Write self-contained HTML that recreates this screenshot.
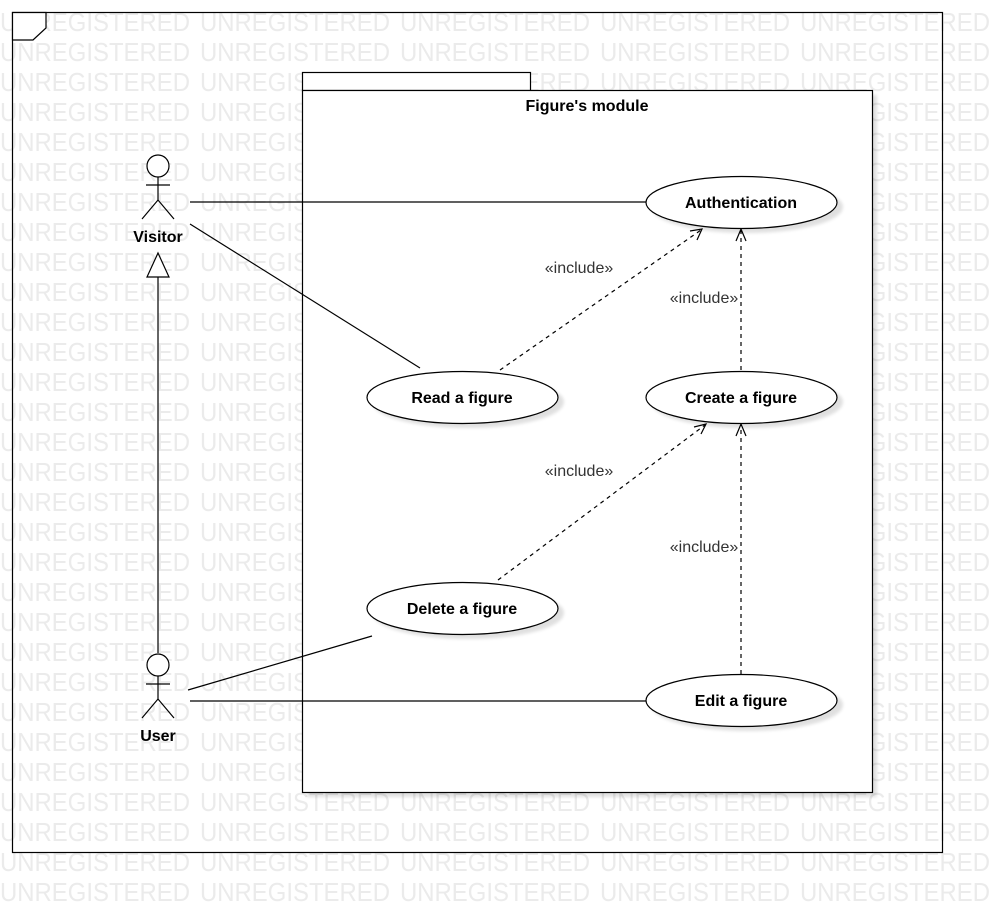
<!DOCTYPE html>
<html><head><meta charset="utf-8"><style>
html,body{margin:0;padding:0;background:#fff;}
svg{display:block;}
</style></head><body>
<svg width="992" height="902" viewBox="0 0 992 902" xmlns="http://www.w3.org/2000/svg" font-family="Liberation Sans, Arial, sans-serif">
<defs>
<filter id="sh" x="-20%" y="-20%" width="150%" height="160%"><feGaussianBlur stdDeviation="1.5"/></filter>
</defs>
<g fill="#ebebeb" font-size="26" font-family="Liberation Sans, Arial, sans-serif">
<text x="0" y="31" textLength="190" lengthAdjust="spacingAndGlyphs">UNREGISTERED</text><text x="200" y="31" textLength="190" lengthAdjust="spacingAndGlyphs">UNREGISTERED</text><text x="400" y="31" textLength="190" lengthAdjust="spacingAndGlyphs">UNREGISTERED</text><text x="600" y="31" textLength="190" lengthAdjust="spacingAndGlyphs">UNREGISTERED</text><text x="800" y="31" textLength="190" lengthAdjust="spacingAndGlyphs">UNREGISTERED</text>
</g>
<g id="rows" fill="#ebebeb" font-size="26"></g>
<script>
(function(){var g=document.getElementById('rows');var ns='http://www.w3.org/2000/svg';
for(var r=1;r<30;r++){for(var k=0;k<5;k++){var t=document.createElementNS(ns,'text');t.setAttribute('x',k*200);t.setAttribute('y',31+r*30);t.setAttribute('textLength','190');t.setAttribute('lengthAdjust','spacingAndGlyphs');t.textContent='UNREGISTERED';g.appendChild(t);}}})();
</script>
<rect x="12.5" y="12.5" width="930" height="840" fill="none" stroke="#000" stroke-width="1.2"/>
<path d="M12.5 12.5 H46 V28 L33 40 H12.5 Z" fill="#fff" stroke="#000" stroke-width="1.2"/>
<rect x="307" y="95" width="570" height="702" fill="#000" opacity="0.12" filter="url(#sh)"/>
<rect x="302.5" y="72.5" width="228" height="18" fill="#fff" stroke="#000" stroke-width="1.2"/>
<rect x="302.5" y="90.5" width="570" height="702" fill="#fff" stroke="#000" stroke-width="1.2"/>
<text x="587" y="111" text-anchor="middle" font-size="16" font-weight="bold">Figure's module</text>
<g stroke="#000" stroke-width="1.2" fill="none">
<line x1="190" y1="202" x2="646" y2="202"/>
<line x1="190" y1="224" x2="420" y2="368"/>
<line x1="188" y1="690" x2="372" y2="636"/>
<line x1="190" y1="701" x2="646" y2="701"/>
<line x1="158" y1="653" x2="158" y2="277"/>
<path d="M158 253 L169 277 H147 Z" fill="#fff"/>
</g>
<g stroke="#000" stroke-width="1.2" fill="none" stroke-dasharray="4,4">
<line x1="500" y1="370" x2="701" y2="230"/>
<line x1="741" y1="370" x2="741" y2="230"/>
<line x1="498" y1="580" x2="705" y2="425"/>
<line x1="741" y1="674" x2="741" y2="425"/>
</g>
<g stroke="#000" stroke-width="1.2" fill="none">
<path d="M690 231 L702 229 L697 240"/>
<path d="M736 241 L741 229 L746 241"/>
<path d="M694 427 L706 424 L701 434"/>
<path d="M736 436 L741 424 L746 436"/>
</g>
<g font-size="16" fill="#333">
<text x="579" y="273" text-anchor="middle">«include»</text>
<text x="704" y="303" text-anchor="middle">«include»</text>
<text x="579" y="476" text-anchor="middle">«include»</text>
<text x="704" y="552" text-anchor="middle">«include»</text>
</g>
<g>
<ellipse cx="747" cy="207" rx="96" ry="26" fill="#000" opacity="0.12" filter="url(#sh)"/>
<ellipse cx="741.5" cy="202.5" rx="95.5" ry="26" fill="#fff" stroke="#000" stroke-width="1.2"/>
<ellipse cx="468" cy="402" rx="96" ry="26" fill="#000" opacity="0.12" filter="url(#sh)"/>
<ellipse cx="462.5" cy="397.5" rx="95.5" ry="26" fill="#fff" stroke="#000" stroke-width="1.2"/>
<ellipse cx="747" cy="402" rx="96" ry="26" fill="#000" opacity="0.12" filter="url(#sh)"/>
<ellipse cx="741.5" cy="397.5" rx="95.5" ry="26" fill="#fff" stroke="#000" stroke-width="1.2"/>
<ellipse cx="468" cy="613" rx="96" ry="26" fill="#000" opacity="0.12" filter="url(#sh)"/>
<ellipse cx="462.5" cy="608.5" rx="95.5" ry="26" fill="#fff" stroke="#000" stroke-width="1.2"/>
<ellipse cx="747" cy="705" rx="96" ry="26" fill="#000" opacity="0.12" filter="url(#sh)"/>
<ellipse cx="741.5" cy="700.5" rx="95.5" ry="26" fill="#fff" stroke="#000" stroke-width="1.2"/>
</g>
<g font-size="16" font-weight="bold" text-anchor="middle">
<text x="741" y="208">Authentication</text>
<text x="462" y="403">Read a figure</text>
<text x="741" y="403">Create a figure</text>
<text x="462" y="614">Delete a figure</text>
<text x="741" y="706">Edit a figure</text>
</g>
<g stroke="#000" stroke-width="1.2" fill="#fff">
<circle cx="158" cy="166" r="11"/>
<line x1="158" y1="177" x2="158" y2="200"/>
<line x1="146" y1="185" x2="170" y2="185"/>
<path d="M142 219 L158 200 L174 219" fill="none"/>
<circle cx="158" cy="665" r="11"/>
<line x1="158" y1="676" x2="158" y2="699"/>
<line x1="146" y1="684" x2="170" y2="684"/>
<path d="M142 718 L158 699 L174 718" fill="none"/>
</g>
<g font-size="16" font-weight="bold" text-anchor="middle">
<text x="158" y="242">Visitor</text>
<text x="158" y="741">User</text>
</g>
</svg>
</body></html>
